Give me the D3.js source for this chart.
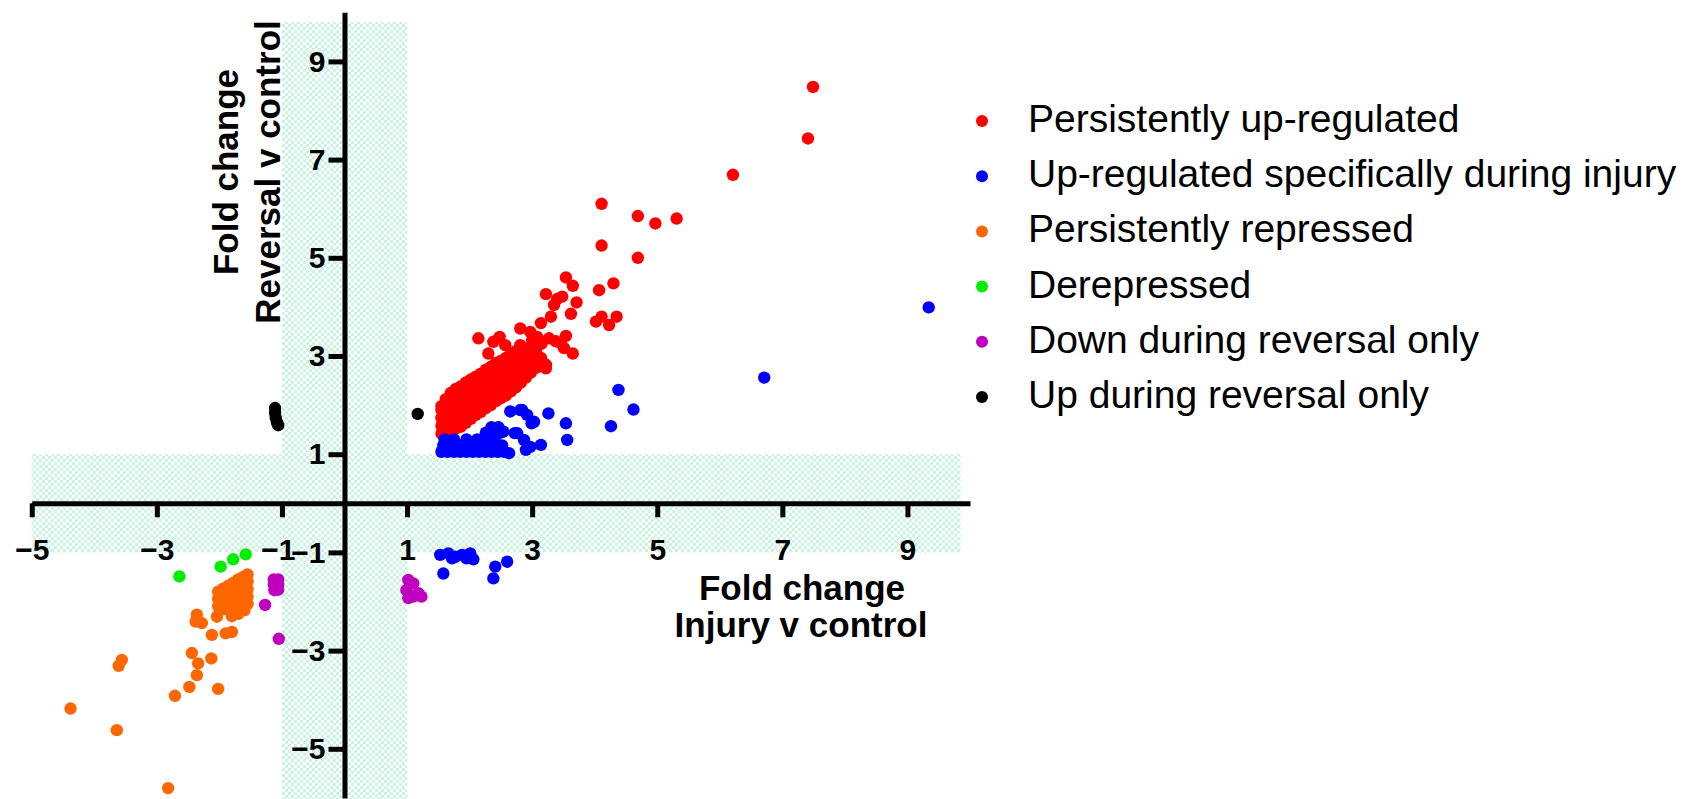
<!DOCTYPE html>
<html>
<head>
<meta charset="utf-8">
<script src="https://cdn.jsdelivr.net/npm/d3@7"></script>
<style>
  body { margin: 0; background: #fff; }
  svg { display: block; }
  text { font-family: "Liberation Sans", Arial, sans-serif; fill: #000; }
</style>
</head>
<body>
<svg id="chart" width="1698" height="799"></svg>
<script>
// ---- Data: fold change (injury v control, reversal v control) ----
const seriesNames = [
  "Persistently up-regulated",
  "Up-regulated specifically during injury",
  "Persistently repressed",
  "Derepressed",
  "Down during reversal only",
  "Up during reversal only"
];
const seriesColors = ["#ff0000", "#0000ff", "#ff6600", "#00ee00", "#c000c0", "#000000"];

const persistentlyUp = [
  [7.49,8.48],[7.41,7.43],[6.21,6.69],[4.11,6.10],[4.69,5.85],[4.97,5.70],[5.31,5.80],
  [4.11,5.25],[4.69,5.00],[3.54,4.60],[3.65,4.43],[4.07,4.34],[4.30,4.48],[3.48,4.21],
  [3.71,4.09],[3.62,3.86],[4.02,3.70],[4.11,3.80],[4.23,3.63],[4.35,3.80],[3.54,3.41],
  [3.51,3.16],[3.65,3.05],[3.22,4.26],[3.40,4.16],[3.35,4.04],[3.30,3.80],[3.14,3.67],
  [2.81,3.56],[2.97,3.49],[2.14,3.36],[2.48,3.39],[2.38,3.29],[2.57,3.22],[2.81,3.22],
  [3.08,3.39],[3.27,3.36],[3.46,3.26],[2.30,3.05],[3.19,2.85],[3.22,2.75],[3.08,3.19],
  [3.00,3.32],[3.15,3.25],[3.38,3.30],
  [1.55,1.42],[1.55,1.58],[1.55,1.74],[1.55,1.90],[1.55,1.98],
  [1.62,1.50],[1.62,1.66],[1.62,1.82],[1.62,2.00],[1.62,2.12],
  [1.70,1.48],[1.70,1.64],[1.70,1.80],[1.70,1.96],[1.70,2.12],[1.70,2.25],
  [1.78,1.52],[1.78,1.70],[1.78,1.86],[1.78,2.04],[1.78,2.20],[1.78,2.33],
  [1.86,1.56],[1.86,1.72],[1.86,1.90],[1.86,2.06],[1.86,2.24],[1.86,2.38],
  [1.94,1.64],[1.94,1.80],[1.94,1.97],[1.94,2.14],[1.94,2.30],[1.94,2.46],
  [2.02,1.72],[2.02,1.88],[2.02,2.05],[2.02,2.22],[2.02,2.38],[2.02,2.52],
  [2.10,1.80],[2.10,1.96],[2.10,2.12],[2.10,2.30],[2.10,2.46],[2.10,2.58],
  [2.18,1.86],[2.18,2.02],[2.18,2.20],[2.18,2.36],[2.18,2.52],[2.18,2.64],
  [2.26,1.94],[2.26,2.10],[2.26,2.26],[2.26,2.44],[2.26,2.60],[2.26,2.72],
  [2.34,2.00],[2.34,2.16],[2.34,2.34],[2.34,2.50],[2.34,2.66],[2.34,2.78],
  [2.42,2.08],[2.42,2.24],[2.42,2.40],[2.42,2.56],[2.42,2.72],[2.42,2.86],
  [2.50,2.14],[2.50,2.30],[2.50,2.48],[2.50,2.64],[2.50,2.80],[2.50,2.90],
  [2.58,2.20],[2.58,2.38],[2.58,2.54],[2.58,2.70],[2.58,2.86],[2.58,2.96],
  [2.66,2.28],[2.66,2.44],[2.66,2.62],[2.66,2.78],[2.66,2.94],[2.66,3.04],
  [2.74,2.36],[2.74,2.52],[2.74,2.70],[2.74,2.86],[2.74,3.02],[2.74,3.10],
  [2.82,2.46],[2.82,2.62],[2.82,2.78],[2.82,2.94],[2.82,3.10],
  [2.90,2.56],[2.90,2.72],[2.90,2.88],[2.90,3.04],[2.90,3.16],
  [2.98,2.66],[2.98,2.82],[2.98,2.98],[2.98,3.12],
  [3.06,2.76],[3.06,2.92],[3.06,3.06],[3.06,3.20],
  [3.14,2.80],[3.14,2.96],[3.22,2.82]
];

const upDuringInjury = [
  [1.55,1.05],[1.65,1.05],[1.75,1.05],[1.85,1.05],[1.95,1.05],[2.05,1.05],[2.15,1.05],
  [2.25,1.05],[2.35,1.05],[2.45,1.05],[2.55,1.05],
  [1.58,1.18],[1.70,1.18],[1.82,1.18],[1.94,1.18],[2.06,1.18],[2.18,1.18],[2.30,1.18],
  [2.42,1.18],[2.52,1.18],
  [1.60,1.30],[1.75,1.30],[1.95,1.30],[2.12,1.30],[2.28,1.30],[2.40,1.30],
  [2.26,1.44],[2.38,1.44],[2.50,1.44],[2.35,1.55],[2.46,1.55],
  [2.63,1.02],[2.72,1.43],[2.76,1.43],[2.87,1.29],[2.97,1.15],[3.14,1.19],[2.90,1.09],
  [2.65,1.87],[2.81,1.90],[2.84,1.90],[2.92,1.80],[3.03,1.66],[2.99,1.63],[3.26,1.83],
  [3.54,1.63],[3.56,1.29],[4.26,1.57],[4.38,2.31],[4.62,1.91],[6.71,2.56],[9.34,3.99],
  [2.44,1.49],[2.54,1.46],
  [1.53,-1.05],[1.66,-1.02],[1.77,-1.09],[1.88,-1.05],[2.01,-1.02],[2.06,-1.14],
  [1.72,-1.12],[1.95,-1.12],[1.58,-1.43],[2.60,-1.19],[2.41,-1.29],[2.38,-1.53]
];

const persistentlyRepressed = [
  [-1.55,-1.45],[-1.55,-1.60],[-1.55,-1.75],[-1.55,-1.90],[-1.55,-2.05],
  [-1.62,-1.50],[-1.62,-1.65],[-1.62,-1.80],[-1.62,-1.95],[-1.62,-2.10],
  [-1.70,-1.55],[-1.70,-1.70],[-1.70,-1.85],[-1.70,-2.00],[-1.70,-2.15],[-1.70,-2.25],
  [-1.78,-1.62],[-1.78,-1.78],[-1.78,-1.92],[-1.78,-2.08],[-1.78,-2.22],
  [-1.86,-1.68],[-1.86,-1.84],[-1.86,-1.98],[-1.86,-2.12],
  [-1.94,-1.74],[-1.94,-1.88],[-1.94,-2.02],[-1.94,-2.16],
  [-2.02,-1.80],[-2.02,-1.95],[-2.02,-2.10],
  [-1.80,-2.30],[-1.60,-2.18],[-2.04,-2.31],
  [-2.36,-2.27],[-2.38,-2.41],[-2.28,-2.44],[-2.12,-2.68],[-1.90,-2.65],[-1.80,-2.62],
  [-2.44,-3.05],[-2.34,-3.26],[-2.13,-3.16],[-2.36,-3.50],[-2.48,-3.74],[-2.71,-3.92],
  [-2.02,-3.78],[-3.56,-3.19],[-3.61,-3.31],[-4.38,-4.18],[-3.64,-4.62],[-2.82,-5.80]
];

const derepressed = [[-2.64,-1.49],[-1.98,-1.29],[-1.78,-1.14],[-1.58,-1.04]];

const downDuringReversal = [
  [-1.13,-1.55],[-1.06,-1.55],[-1.13,-1.66],[-1.06,-1.66],[-1.12,-1.77],[-1.06,-1.76],
  [-1.27,-2.07],[-1.05,-2.76],
  [1.02,-1.56],[1.10,-1.63],[0.99,-1.77],[1.02,-1.93],[1.18,-1.83],[1.23,-1.90],[1.10,-1.90]
];

const upDuringReversal = [
  [-1.11,1.94],[-1.11,1.84],[-1.10,1.74],[-1.08,1.65],[-1.06,1.59],[1.17,1.82]
];

const xTicks = [-5, -3, -1, 1, 3, 5, 7, 9];
const yTicks = [-5, -3, -1, 1, 3, 5, 7, 9];

// ---- Chart ----
const series = [persistentlyUp, upDuringInjury, persistentlyRepressed,
                 derepressed, downDuringReversal, upDuringReversal];

const svg = d3.select("#chart");
svg.append("rect").attr("width", 1698).attr("height", 799).attr("fill", "#fff");

const x = d3.scaleLinear().domain([-5, 10]).range([31.75, 970]);
const y = d3.scaleLinear().domain([-6, 10]).range([797.9, 12.3]);

// checkered mint fill for the +/-1 fold-change bands
const defs = svg.append("defs");
const pat = defs.append("pattern").attr("id", "mint")
  .attr("patternUnits", "userSpaceOnUse").attr("width", 6).attr("height", 6);
pat.append("rect").attr("width", 6).attr("height", 6).attr("fill", "#ffffff");
pat.append("rect").attr("width", 3).attr("height", 3).attr("fill", "#c9f4e2");
pat.append("rect").attr("x", 3).attr("y", 3).attr("width", 3).attr("height", 3).attr("fill", "#c9f4e2");

svg.append("rect")
  .attr("x", x(-1)).attr("y", y(9.8))
  .attr("width", x(1) - x(-1)).attr("height", 799 - y(9.8))
  .attr("fill", "url(#mint)");
svg.append("rect")
  .attr("x", x(-5)).attr("y", y(1))
  .attr("width", x(9.85) - x(-5)).attr("height", y(-1) - y(1))
  .attr("fill", "url(#mint)");

// axes crossing at the origin
const xAxis = svg.append("g")
  .attr("transform", `translate(0,${y(0)})`)
  .call(d3.axisBottom(x).tickValues(xTicks).tickSize(14).tickSizeOuter(0).tickPadding(21));
const yAxis = svg.append("g")
  .attr("transform", `translate(${x(0)},0)`)
  .call(d3.axisLeft(y).tickValues(yTicks).tickSize(16).tickSizeOuter(0).tickPadding(3));

[xAxis, yAxis].forEach(g => {
  g.select(".domain").attr("stroke", "#000").attr("stroke-width", 5);
  g.selectAll(".tick line").attr("stroke", "#000").attr("stroke-width", 5);
  g.selectAll(".tick text")
    .style("font-family", "'Liberation Sans', Arial, sans-serif")
    .style("font-size", "30px").style("font-weight", "bold").attr("fill", "#000");
});
// the -1 labels of both axes sit side by side near the origin; keep them apart
xAxis.selectAll(".tick text").filter(d => d === -1).attr("dx", -4);

// points
series.forEach((pts, i) => {
  svg.append("g").selectAll("circle").data(pts).join("circle")
    .attr("cx", d => x(d[0])).attr("cy", d => y(d[1]))
    .attr("r", 6.2).attr("fill", seriesColors[i]);
});

// axis titles
const titleStyle = s => s.style("font-size", "35px").style("font-weight", "bold")
  .attr("text-anchor", "middle");
const yt = svg.append("g").attr("transform", "rotate(-90)");
yt.append("text").attr("x", -172).attr("y", 238).text("Fold change").call(titleStyle);
yt.append("text").attr("x", -172).attr("y", 280).text("Reversal v control").call(titleStyle);
svg.append("text").attr("x", 802).attr("y", 600).text("Fold change").call(titleStyle);
svg.append("text").attr("x", 801).attr("y", 637).text("Injury v control").call(titleStyle);

// legend
const legend = svg.append("g");
seriesNames.forEach((name, i) => {
  const cy = 121 + 55.2 * i;
  legend.append("circle").attr("cx", 982).attr("cy", cy).attr("r", 6).attr("fill", seriesColors[i]);
  legend.append("text").attr("x", 1028).attr("y", cy + 11)
    .style("font-size", "39px").text(name);
});
</script>
</body>
</html>
